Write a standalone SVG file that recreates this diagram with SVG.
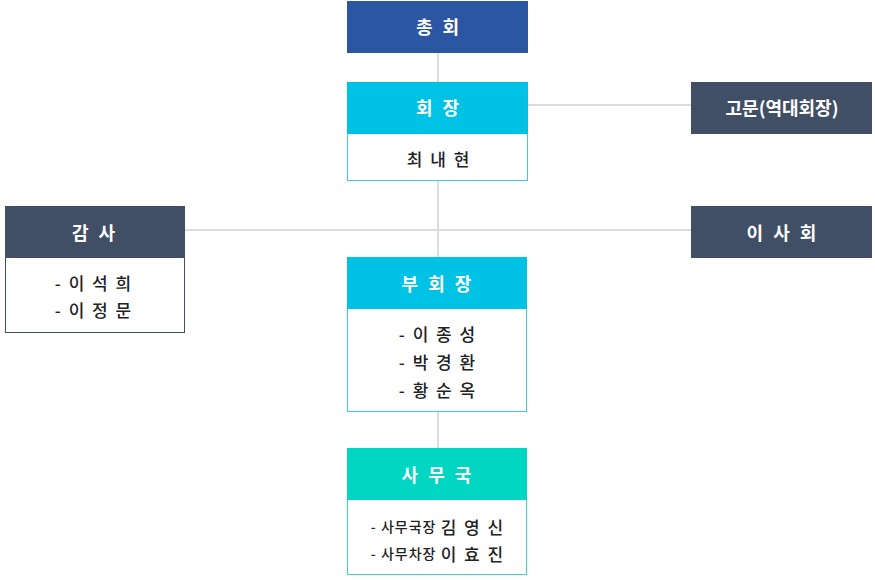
<svg xmlns="http://www.w3.org/2000/svg" width="875" height="580" viewBox="0 0 875 580">
<style>
text{font-family:"Noto Sans CJK KR","Noto Sans",sans-serif;text-anchor:middle;dominant-baseline:central}
.h{fill:#fff;font-size:18px;font-weight:700;letter-spacing:3px}
.ht{fill:#fff;font-size:18px;font-weight:700}
.b{fill:#222;font-size:17px;font-weight:500;letter-spacing:2px}
.s{font-size:14px;letter-spacing:1px}
.dark{fill:#414f66}
.cyan{fill:#00c2e5}
.teal{fill:#00d6c1}
.conn{stroke:#dcdcdc;stroke-width:2;fill:none}
</style>
<g id="connectors">
<line class="conn" x1="438" y1="53" x2="438" y2="448"/>
<line class="conn" x1="528" y1="105" x2="691" y2="105"/>
<line class="conn" x1="185" y1="230" x2="691" y2="230"/>
</g>
<g id="n-chonghoe">
<rect x="347" y="1" width="181" height="52" fill="#2a56a2"/>
<text class="h" x="439" y="26">총 회</text>
</g>
<g id="n-hoejang">
<rect x="347.5" y="82.5" width="180" height="98" fill="#fff" stroke="#3ccbea"/>
<rect x="347" y="82" width="181" height="52" class="cyan"/>
<text class="h" x="439" y="107">회 장</text>
<text class="b" x="439" y="158">최 내 현</text>
</g>
<g id="n-gomun">
<rect x="691" y="82" width="181" height="52" class="dark"/>
<text class="ht" x="782" y="107">고문(역대회장)</text>
</g>
<g id="n-gamsa">
<rect x="5.5" y="206.5" width="179" height="126" fill="#fff" stroke="#414f66"/>
<rect x="5" y="206" width="180" height="52" class="dark"/>
<text class="h" x="95" y="232">감 사</text>
<text class="b" x="94" y="282">- 이 석 희</text>
<text class="b" x="94" y="309">- 이 정 문</text>
</g>
<g id="n-isahoe">
<rect x="691" y="206" width="181" height="52" class="dark"/>
<text class="h" x="783" y="232">이 사 회</text>
</g>
<g id="n-buhoejang">
<rect x="347.5" y="257.5" width="179" height="154" fill="#fff" stroke="#3ccbea"/>
<rect x="347" y="257" width="180" height="52" class="cyan"/>
<text class="h" x="438" y="283">부 회 장</text>
<text class="b" x="438" y="333">- 이 종 성</text>
<text class="b" x="438" y="361">- 박 경 환</text>
<text class="b" x="438" y="389">- 황 순 옥</text>
</g>
<g id="n-samuguk">
<rect x="347.5" y="448.5" width="179" height="126" fill="#fff" stroke="#3ad8c8"/>
<rect x="347" y="448" width="180" height="52" class="teal"/>
<text class="h" x="438" y="474">사 무 국</text>
<text class="b" x="438" y="526"><tspan class="s">- 사무국장 </tspan>김 영 신</text>
<text class="b" x="438" y="553"><tspan class="s">- 사무차장 </tspan>이 효 진</text>
</g>
</svg>
